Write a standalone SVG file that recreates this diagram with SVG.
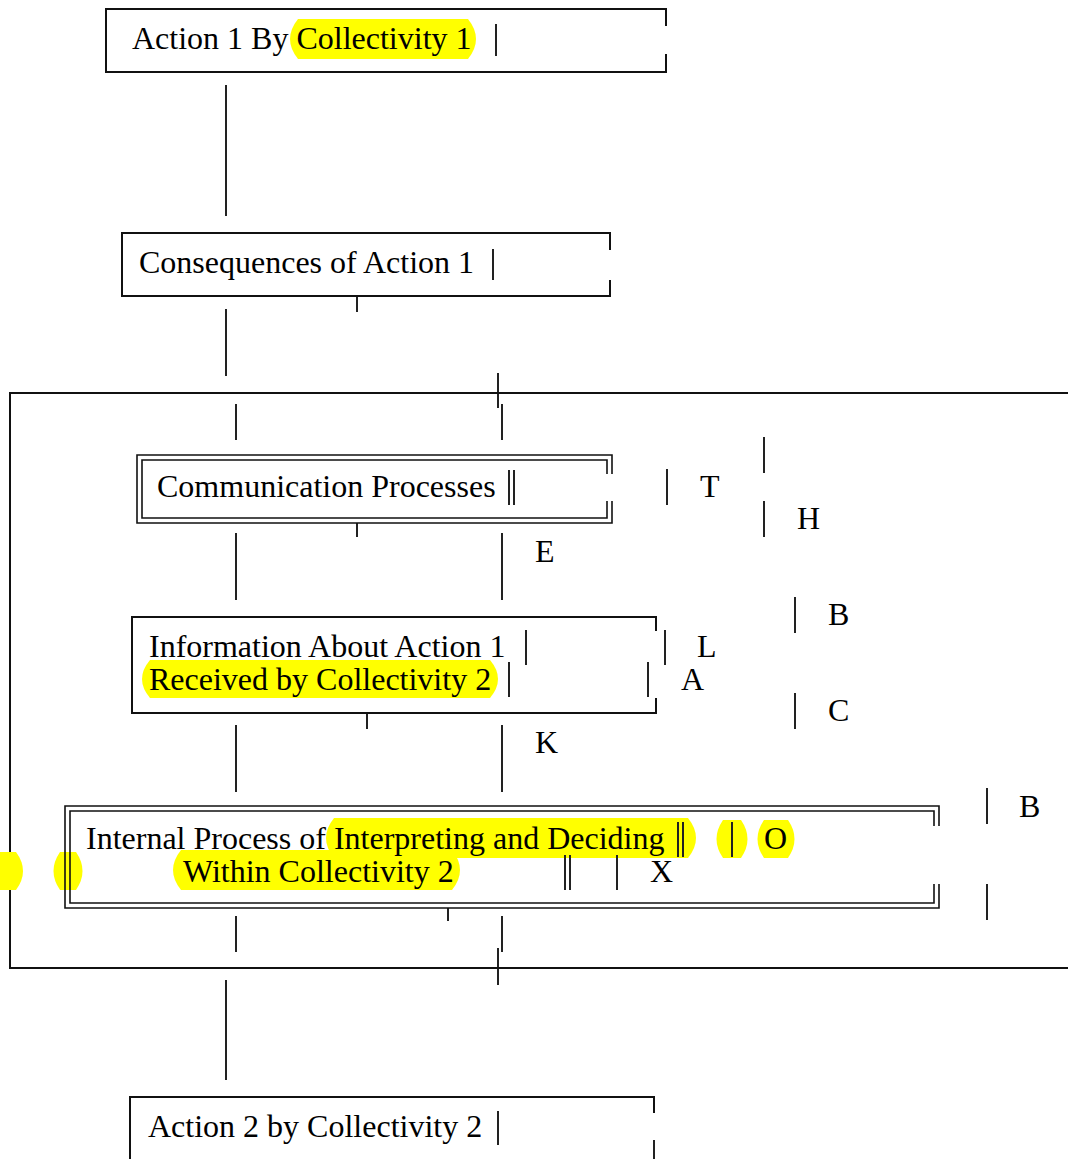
<svg xmlns="http://www.w3.org/2000/svg" width="1068" height="1159" viewBox="0 0 1068 1159">
<style>
text{font-family:"Liberation Serif","Times New Roman",serif;font-size:32px;fill:#000}
.b{fill:none;stroke:#111;stroke-width:2}
.d{fill:none;stroke:#111;stroke-width:1.6}
.l{stroke:#222;stroke-width:2;fill:none}
.hl{fill:#ffff00}
</style>
<rect width="1068" height="1159" fill="#fff"/>

<g id="connectors">
<line class="l" x1="226" y1="85" x2="226" y2="216"/>
<line class="l" x1="357" y1="297" x2="357" y2="312"/>
<line class="l" x1="226" y1="309" x2="226" y2="376"/>
<line class="l" x1="498" y1="373" x2="498" y2="408"/>
<line class="l" x1="236" y1="404" x2="236" y2="440"/>
<line class="l" x1="502" y1="404" x2="502" y2="440"/>
<line class="l" x1="357" y1="523" x2="357" y2="537"/>
<line class="l" x1="236" y1="533" x2="236" y2="600"/>
<line class="l" x1="502" y1="533" x2="502" y2="600"/>
<line class="l" x1="367" y1="713" x2="367" y2="729"/>
<line class="l" x1="236" y1="725" x2="236" y2="792"/>
<line class="l" x1="502" y1="725" x2="502" y2="792"/>
<line class="l" x1="448" y1="908" x2="448" y2="921"/>
<line class="l" x1="236" y1="916" x2="236" y2="952"/>
<line class="l" x1="502" y1="916" x2="502" y2="952"/>
<line class="l" x1="498" y1="948" x2="498" y2="985"/>
<line class="l" x1="226" y1="980" x2="226" y2="1080"/>
</g>

<g id="frame">
<path class="b" d="M1068,393 H10 V968 H1068"/>
</g>

<g id="node-action1">
<path class="b" d="M666,26 V9 H106 V72 H666 V54"/>
<path class="hl" d="M298,19 H468 Q484,39 468,59 H298 Q282,39 298,19 Z"/>
<text x="132" y="49">Action 1 By Collectivity 1</text>
<line class="l" x1="496" y1="24" x2="496" y2="56"/>
</g>

<g id="node-consequences">
<path class="b" d="M610,250 V233 H122 V296 H610 V280"/>
<text x="139" y="273">Consequences of Action 1</text>
<line class="l" x1="493" y1="249" x2="493" y2="280"/>
</g>

<g id="node-communication">
<path class="d" d="M612,474 V455 H137 V523 H612 V501"/>
<path class="d" d="M607,474 V460 H142 V518 H607 V501"/>
<text x="157" y="497">Communication Processes</text>
<line class="l" x1="509" y1="470" x2="509" y2="505" stroke-width="1.6"/>
<line class="l" x1="514" y1="470" x2="514" y2="505" stroke-width="1.6"/>
</g>

<g id="node-information">
<path class="b" d="M656,631 V617 H132 V713 H656 V698"/>
<path class="hl" d="M150,660 H490 Q506,679 490,698 H150 Q134,679 150,660 Z"/>
<text x="149" y="657">Information About Action 1</text>
<text x="149" y="690">Received by Collectivity 2</text>
<line class="l" x1="526" y1="630" x2="526" y2="665"/>
<line class="l" x1="509" y1="662" x2="509" y2="697"/>
<line class="l" x1="665" y1="630" x2="665" y2="665"/>
<line class="l" x1="648" y1="662" x2="648" y2="697"/>
</g>

<g id="node-internal">
<path class="hl" d="M334,818 H688 Q704,838 688,858 H334 Q318,838 334,818 Z"/>
<path class="hl" d="M723,820 H741 Q754,839 741,858 H723 Q710,839 723,820 Z"/>
<path class="hl" d="M764,820 H788 Q801,839 788,858 H764 Q751,839 764,820 Z"/>
<path class="hl" d="M181,850 H452 Q468,870 452,890 H181 Q165,870 181,850 Z"/>
<path class="hl" d="M-10,852 H16 Q30,871 16,890 H-10 Z"/>
<path class="hl" d="M60,852 H76 Q89,871 76,890 H60 Q47,871 60,852 Z"/>
<path class="d" d="M939,826 V806 H65 V908 H939 V884"/>
<path class="d" d="M934,826 V811 H70 V903 H934 V884"/>
<text x="86" y="849">Internal Process of Interpreting and Deciding</text>
<text x="183" y="882">Within Collectivity 2</text>
<line class="l" x1="678" y1="822" x2="678" y2="857" stroke-width="1.6"/>
<line class="l" x1="683" y1="822" x2="683" y2="857" stroke-width="1.6"/>
<line class="l" x1="732" y1="822" x2="732" y2="857"/>
<text x="764" y="849">O</text>
<line class="l" x1="565" y1="855" x2="565" y2="890" stroke-width="1.6"/>
<line class="l" x1="570" y1="855" x2="570" y2="890" stroke-width="1.6"/>
<line class="l" x1="617" y1="855" x2="617" y2="890"/>
<text x="650" y="882">X</text>
</g>

<g id="node-action2">
<path class="b" d="M654,1113 V1097 H130 V1159"/>
<line class="l" x1="654" y1="1140" x2="654" y2="1159"/>
<text x="148" y="1137">Action 2 by Collectivity 2</text>
<line class="l" x1="498" y1="1111" x2="498" y2="1145"/>
</g>

<g id="side-letters">
<line class="l" x1="667" y1="469" x2="667" y2="505"/>
<text x="700" y="497">T</text>
<line class="l" x1="764" y1="437" x2="764" y2="473"/>
<line class="l" x1="764" y1="501" x2="764" y2="537"/>
<text x="797" y="529">H</text>
<text x="535" y="562">E</text>
<line class="l" x1="795" y1="597" x2="795" y2="633"/>
<text x="828" y="625">B</text>
<text x="697" y="657">L</text>
<text x="681" y="690">A</text>
<line class="l" x1="795" y1="693" x2="795" y2="729"/>
<text x="828" y="721">C</text>
<text x="535" y="753">K</text>
<line class="l" x1="987" y1="788" x2="987" y2="824"/>
<text x="1019" y="817">B</text>
<line class="l" x1="987" y1="884" x2="987" y2="920"/>
</g>
</svg>
